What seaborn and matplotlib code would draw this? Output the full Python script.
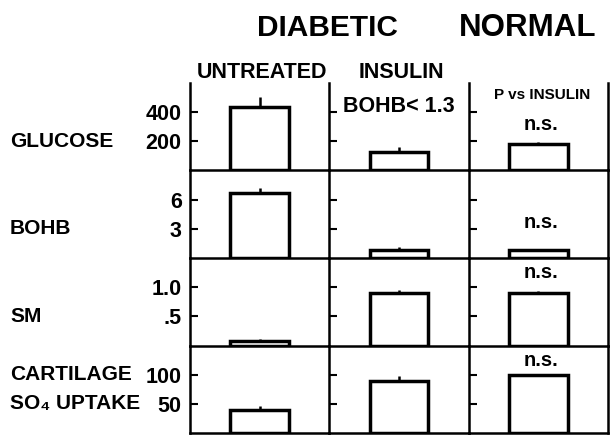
import numpy as np
import matplotlib
matplotlib.use("Agg")
import matplotlib.pyplot as plt
import matplotlib.transforms as mtransforms
import seaborn as sns

# values
groups = ["UNTREATED", "INSULIN", "NORMAL"]
measures = ["GLUCOSE", "BOHB", "SM", "CARTILAGE"]

glucose_mean = [434, 124, 179]
glucose_err = [69, 35, 14]
bohb_mean = [6.7, 0.8, 0.8]
bohb_err = [0.5, 0.35, 0.15]
sm_mean = [0.07, 0.9, 0.9]
sm_err = [0.05, 0.05, 0.04]
cart_mean = [40, 90, 100]
cart_err = [7, 7, 0]

row_means = [glucose_mean, bohb_mean, sm_mean, cart_mean]
row_errs = [glucose_err, bohb_err, sm_err, cart_err]
row_ylim = [600, 9, 1.5, 150]
row_ticks = [[200, 400], [3, 6], [0.5, 1.0], [50, 100]]
row_ticklabels = [["200", "400"], ["3", "6"], [".5", "1.0"], ["50", "100"]]

# row labels, each placed at the level of one tick value
row_labels = [("GLUCOSE", 200), ("BOHB", 3), ("SM", 0.5), ("CARTILAGE", 100)]
extra_label = ("SO\u2084 UPTAKE", 50)

ns_marks = [0.52, 0.40, 0.83, 0.83]  # height of "n.s." in axes fraction, normal column

sns.set_theme(style="white")
plt.rcParams['font.family'] = ['Liberation Sans', 'DejaVu Sans']
plt.rcParams['font.weight'] = 'bold'
plt.rcParams['text.color'] = 'black'
plt.rcParams['ytick.color'] = 'black'

fig, axes = plt.subplots(4, 3, figsize=(6.16, 4.36), dpi=100, sharey='row',
                         gridspec_kw=dict(hspace=0, wspace=0))
fig.subplots_adjust(left=190 / 616, right=608 / 616, top=1 - 83 / 436, bottom=1 - 433 / 436)

for i in range(4):
    for j in range(3):
        ax = axes[i, j]
        sns.barplot(x=[groups[j]], y=[row_means[i][j]], ax=ax, width=0.42,
                    color='white', edgecolor='black', linewidth=2.5)
        if row_errs[i][j] > 0:
            ax.vlines(0, row_means[i][j], row_means[i][j] + row_errs[i][j],
                      color='black', lw=1.8)
        ax.set_xlim(-0.5, 0.5)
        ax.set_ylim(0, row_ylim[i])
        ax.set_xticks([])
        ax.set_xlabel('')
        ax.set_ylabel('')
        ax.set_facecolor('none')
        for side in ['left', 'bottom', 'right']:
            ax.spines[side].set_color('black')
            ax.spines[side].set_linewidth(1.8)
            ax.spines[side].set_zorder(5)
        ax.spines['top'].set_visible(False)
        ax.spines['right'].set_visible(j == 2)
        ax.tick_params(axis='y', direction='in', length=6, width=1.5,
                       colors='black', labelsize=15.5, pad=6, left=True)
    axes[i, 0].set_yticks(row_ticks[i])
    axes[i, 0].set_yticklabels(row_ticklabels[i], fontweight='bold')

    trans = mtransforms.blended_transform_factory(fig.transFigure, axes[i, 0].transData)
    name, yv = row_labels[i]
    fig.text(10 / 616, yv, name, transform=trans, fontsize=15, fontweight='bold',
             ha='left', va='center')
    if i == 3:
        fig.text(10 / 616, extra_label[1], extra_label[0], transform=trans,
                 fontsize=15, fontweight='bold', ha='left', va='center')

    axes[i, 2].text(0.52, ns_marks[i], "n.s.", transform=axes[i, 2].transAxes,
                    fontsize=14.5, fontweight='bold', ha='center', va='center')

axes[0, 1].text(0.5, 0.73, "BOHB< 1.3", transform=axes[0, 1].transAxes,
                fontsize=15.5, fontweight='bold', ha='center', va='center')
axes[0, 2].text(0.53, 0.86, "P vs INSULIN", transform=axes[0, 2].transAxes,
                fontsize=11, fontweight='bold', ha='center', va='center')

# headers
fig.text(327 / 616, 1 - 28 / 436, "DIABETIC", fontsize=21.5, fontweight='bold',
         ha='center', va='center')
fig.text(528 / 616, 1 - 28 / 436, "NORMAL", fontsize=22.5, fontweight='bold',
         ha='center', va='center')
fig.text(262 / 616, 1 - 72 / 436, "UNTREATED", fontsize=15.5, fontweight='bold',
         ha='center', va='center')
fig.text(401 / 616, 1 - 72 / 436, "INSULIN", fontsize=15.5, fontweight='bold',
         ha='center', va='center')

fig.savefig("out.png", dpi=100, facecolor='white')
